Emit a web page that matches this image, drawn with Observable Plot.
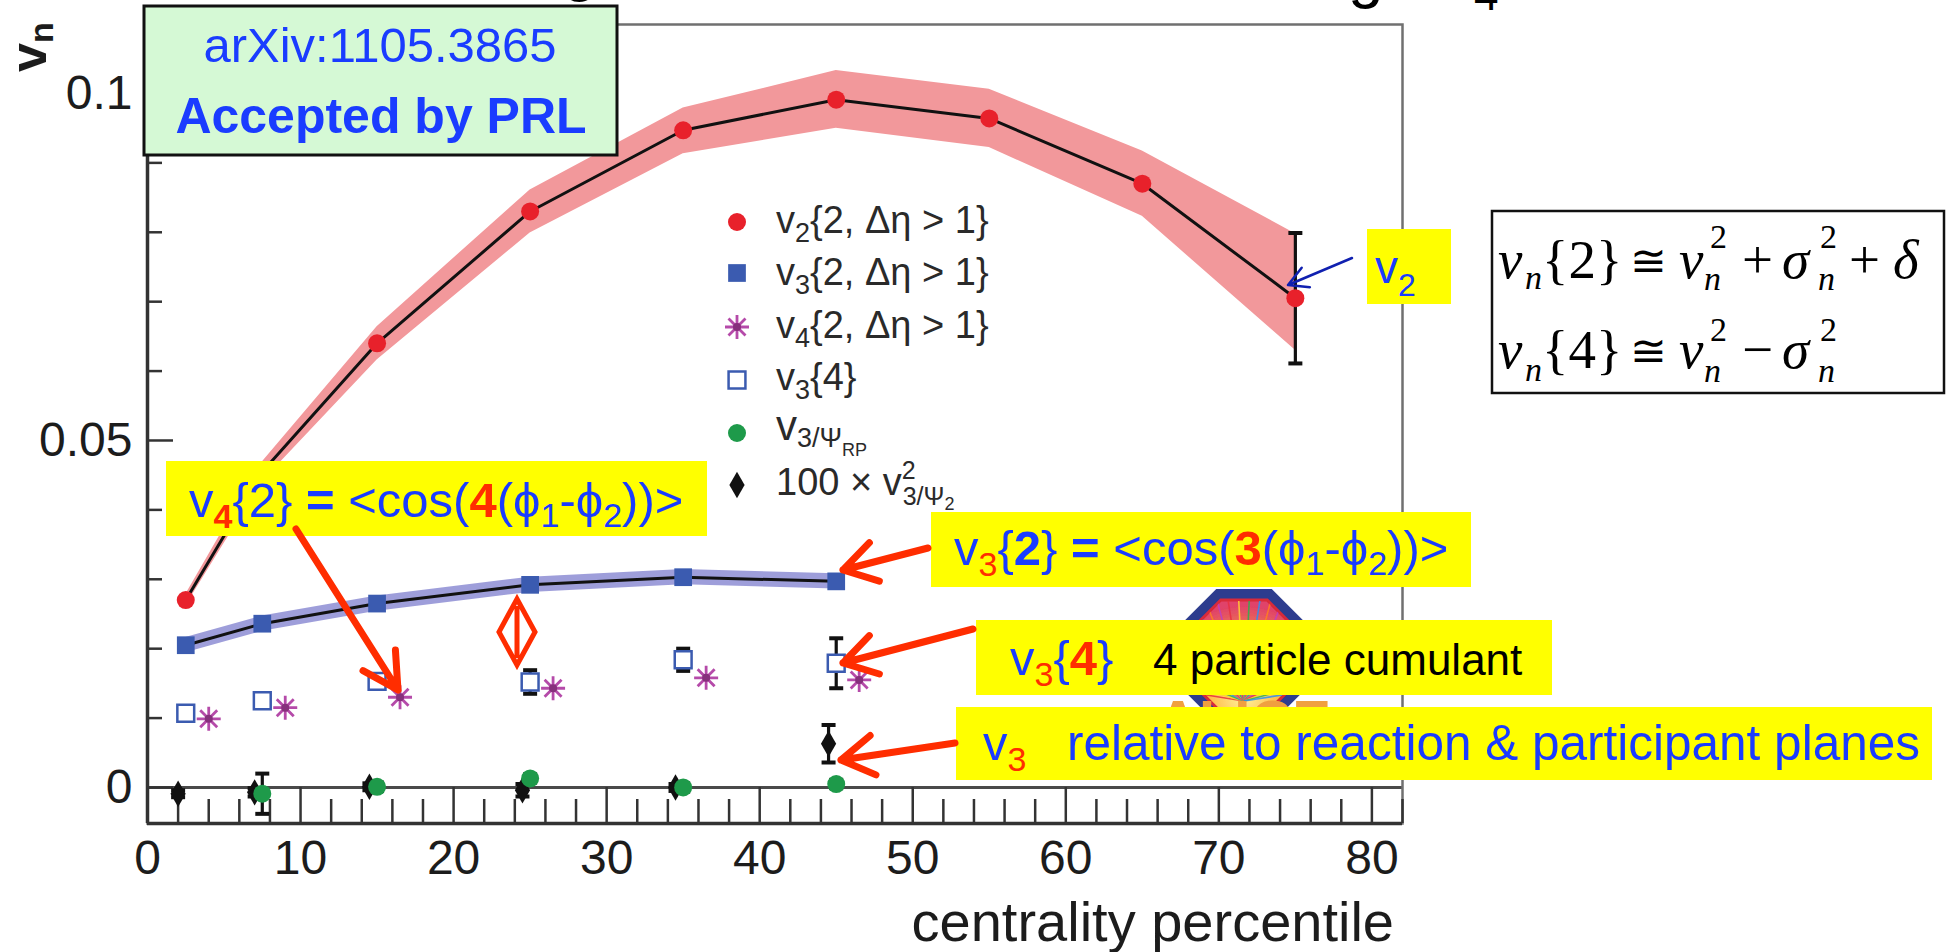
<!DOCTYPE html>
<html>
<head>
<meta charset="utf-8">
<script src="https://cdn.jsdelivr.net/npm/d3@7"></script>
<script src="https://cdn.jsdelivr.net/npm/@observablehq/plot@0.6"></script>
<style>
  html, body { margin: 0; padding: 0; background: #ffffff; overflow: hidden; }
  #chart { width: 1948px; height: 952px; overflow: hidden; }
  #chart svg { display: block; }
</style>
</head>
<body>
<div id="chart"></div>
<script>
// ---------------- data ----------------
// v2{2, |Δη|>1}
const v2X   = [2.5, 7.5, 15, 25, 35, 45, 55, 65, 75];
const v2Y   = [0.0270, 0.0455, 0.0640, 0.0830, 0.0947, 0.0991, 0.0964, 0.0870, 0.0705];
const v2Lo  = [0.0262, 0.0441, 0.0616, 0.0799, 0.0913, 0.0950, 0.0922, 0.0823, 0.0630];
const v2Hi  = [0.0278, 0.0469, 0.0664, 0.0861, 0.0979, 0.1033, 0.1006, 0.0917, 0.0798];
const v2ErrX  = [75];
const v2ErrLo = [0.0611];
const v2ErrHi = [0.0799];
// v3{2, |Δη|>1}
const v3X   = [2.5, 7.5, 15, 25, 35, 45];
const v3Y   = [0.0205, 0.0236, 0.0265, 0.0292, 0.0303, 0.0297];
const v3Lo  = [0.0194, 0.0225, 0.0254, 0.0281, 0.0292, 0.0286];
const v3Hi  = [0.0216, 0.0247, 0.0276, 0.0303, 0.0314, 0.0308];
// v4{2, |Δη|>1}
const v4X   = [4, 9, 16.5, 26.5, 36.5, 46.5];
const v4Y   = [0.0099, 0.0115, 0.0130, 0.0143, 0.0158, 0.0155];
// v3{4}
const v34X   = [2.5, 7.5, 15, 25, 35, 45];
const v34Y   = [0.0107, 0.0125, 0.0153, 0.0152, 0.0184, 0.0179];
const v34Err = [0, 0, 0.0008, 0.0017, 0.0016, 0.0036];
// v3/Ψ_RP
const rpX   = [7.5, 15, 25, 35, 45];
const rpY   = [-0.0009, 0.0001, 0.0013, 0.0000, 0.0005];
const rpErr = [0.0029, 0.0006, 0.0006, 0.0006, 0.0006];
// 100 × v²3/Ψ2
const ppX   = [2, 7, 14.5, 24.5, 34.5, 44.5];
const ppY   = [-0.0009, -0.0007, 0.0001, -0.0004, 0.0000, 0.0063];
const ppErr = [0.0005, 0.0006, 0.0005, 0.0009, 0.0005, 0.0027];
// axes
const xDomain = [0, 82];
const yDomain = [-0.00519, 0.10994];
const xTickLabels = [0, 10, 20, 30, 40, 50, 60, 70, 80];
const xMinorTicks = [2, 4, 6, 8, 12, 14, 16, 18, 22, 24, 26, 28, 32, 34, 36, 38, 42, 44, 46, 48, 52, 54, 56, 58, 62, 64, 66, 68, 72, 74, 76, 78, 82];
const yTickLabels = [0, 0.05, 0.1];
const yTickText   = ["0", "0.05", "0.1"];
const yMinorTicks = [0.01, 0.02, 0.03, 0.04, 0.06, 0.07, 0.08, 0.09];
const xLabel = "centrality percentile";

// ---------------- styling constants ----------------
const SANS = "'Liberation Sans', Arial, Helvetica, sans-serif";
const SERIF = "'Liberation Serif', 'Times New Roman', serif";
const BLUE = "#1a3cff", RED = "#ff2d00", YELLOW = "#ffff00";
const C_RED = "#e8212b", C_PINK = "#f2989b", C_BLUE = "#3b5bb0", C_LAV = "#9494d6",
      C_MAG = "#b54aa9", C_GREEN = "#1e9a4a", C_BLACK = "#111";
const W = 1948, H = 952;
const M = {left: 147, right: 546, top: 24, bottom: 129};
const FW = W - M.left - M.right, FH = H - M.top - M.bottom;

// ---------------- rows ----------------
const v2Rows = v2X.map((x, i) => ({x, y: v2Y[i], lo: v2Lo[i], hi: v2Hi[i]}));
const v3Rows = v3X.map((x, i) => ({x, y: v3Y[i], lo: v3Lo[i], hi: v3Hi[i]}));
const v4Rows = v4X.map((x, i) => ({x, y: v4Y[i]}));
const v34Rows = v34X.map((x, i) => ({x, y: v34Y[i], e: v34Err[i]}));
const rpRows = rpX.map((x, i) => ({x, y: rpY[i], e: rpErr[i]}));
const ppRows = ppX.map((x, i) => ({x, y: ppY[i], e: ppErr[i]}));
const errRows = [
  ...v2ErrX.map((x, i) => ({x, lo: v2ErrLo[i], hi: v2ErrHi[i]})),
  ...v34Rows.filter(d => d.e > 0).map(d => ({x: d.x, lo: d.y - d.e, hi: d.y + d.e})),
  ...rpRows.filter(d => d.e > 0).map(d => ({x: d.x, lo: d.y - d.e, hi: d.y + d.e})),
  ...ppRows.filter(d => d.e > 0).map(d => ({x: d.x, lo: d.y - d.e, hi: d.y + d.e}))
];
const capRows = errRows.flatMap(d => [{x: d.x, y: d.lo}, {x: d.x, y: d.hi}]);

const capSymbol = {draw(ctx) { ctx.moveTo(-7, 0); ctx.lineTo(7, 0); }};
const asteriskSymbol = {draw(ctx) {
  const r = 12;
  for (const a of [0, 45, 90, 135]) {
    const t = a * Math.PI / 180;
    ctx.moveTo(r * Math.cos(t), r * Math.sin(t));
    ctx.lineTo(-r * Math.cos(t), -r * Math.sin(t));
  }
}};

const plot = Plot.plot({
  width: W, height: H,
  marginLeft: M.left, marginRight: M.right, marginTop: M.top, marginBottom: M.bottom,
  x: {domain: xDomain},
  y: {domain: yDomain},
  style: {fontFamily: SANS, color: "#1c1c1c", background: "transparent"},
  marks: [
    Plot.areaY(v2Rows, {x: "x", y1: "lo", y2: "hi", fill: C_PINK}),
    Plot.areaY(v3Rows, {x: "x", y1: "lo", y2: "hi", fill: C_LAV, fillOpacity: 0.9}),
    Plot.ruleY([0], {stroke: "#4a4a4a", strokeWidth: 3}),
    Plot.frame({stroke: "#707070", strokeWidth: 2.5}),
    Plot.ruleX([xDomain[0]], {stroke: "#333", strokeWidth: 3.5}),
    Plot.ruleY([yDomain[0]], {stroke: "#333", strokeWidth: 3.5}),
    Plot.ruleX(xMinorTicks, {x: d => d, insetTop: FH - 24, stroke: "#333", strokeWidth: 2.5}),
    Plot.ruleX(xTickLabels, {x: d => d, insetTop: FH - 36, stroke: "#333", strokeWidth: 2.5}),
    Plot.ruleY(yMinorTicks, {y: d => d, insetRight: FW - 15, stroke: "#333", strokeWidth: 2.5}),
    Plot.ruleY(yTickLabels, {y: d => d, insetRight: FW - 26, stroke: "#333", strokeWidth: 2.5}),
    Plot.axisX({ticks: xTickLabels, tickSize: 0, tickPadding: 16, fontSize: 48, label: null, tickFormat: d => String(d)}),
    Plot.axisY({ticks: yTickLabels, tickSize: 0, tickPadding: 15, fontSize: 48, label: null,
                tickFormat: d => yTickText[yTickLabels.indexOf(d)]}),
    Plot.line(v2Rows, {x: "x", y: "y", stroke: C_BLACK, strokeWidth: 3}),
    Plot.line(v3Rows, {x: "x", y: "y", stroke: C_BLACK, strokeWidth: 3}),
    Plot.ruleX(errRows, {x: "x", y1: "lo", y2: "hi", stroke: C_BLACK, strokeWidth: 3.2}),
    Plot.dot(capRows, {x: "x", y: "y", symbol: capSymbol, fill: "none", stroke: C_BLACK, strokeWidth: 4}),
    Plot.dot(v2Rows, {x: "x", y: "y", r: 9, fill: C_RED}),
    Plot.dot(v3Rows, {x: "x", y: "y", symbol: "square", r: 10, fill: C_BLUE}),
    Plot.dot(v4Rows, {x: "x", y: "y", symbol: asteriskSymbol, fill: "none", stroke: C_MAG, strokeWidth: 2.8}),
    Plot.dot(v4Rows, {x: "x", y: "y", r: 4, fill: "#86307c"}),
    Plot.dot(v34Rows, {x: "x", y: "y", symbol: "square", r: 9.5, fill: "#fff", stroke: C_BLUE, strokeWidth: 2.5}),
    Plot.dot(ppRows, {x: "x", y: "y", symbol: "diamond", r: 8, fill: C_BLACK}),
    Plot.dot(rpRows, {x: "x", y: "y", r: 9, fill: C_GREEN})
  ]
});
document.getElementById("chart").appendChild(plot);

// ---------------- overlays ----------------
const svg = d3.select(plot);
const defs = svg.append("defs");

function rich(g, x, y, parts, base) {
  const t = g.append("text").attr("x", x).attr("y", y)
    .attr("font-family", base.family || SANS)
    .attr("font-size", base.size)
    .attr("fill", base.fill || "#000")
    .attr("text-anchor", base.anchor || "start");
  if (base.weight) t.attr("font-weight", base.weight);
  for (const p of parts) {
    const s = t.append("tspan").text(p.t);
    if (p.fill) s.attr("fill", p.fill);
    if (p.w) s.attr("font-weight", p.w);
    if (p.s) s.attr("font-size", p.s);
    if (p.dy) s.attr("dy", p.dy);
    if (p.dx) s.attr("dx", p.dx);
    if (p.x != null) s.attr("x", p.x);
    if (p.y != null) s.attr("y", p.y);
    if (p.i) s.attr("font-style", "italic");
  }
  return t;
}
function box(g, x0, y0, x1, y1, fill, stroke, sw) {
  const r = g.append("rect").attr("x", x0).attr("y", y0).attr("width", x1 - x0).attr("height", y1 - y0).attr("fill", fill);
  if (stroke) r.attr("stroke", stroke).attr("stroke-width", sw);
  return r;
}
function arrow(g, x1, y1, x2, y2, color, w, head, ang) {
  const a = Math.atan2(y2 - y1, x2 - x1);
  const hx1 = x2 - head * Math.cos(a - ang), hy1 = y2 - head * Math.sin(a - ang);
  const hx2 = x2 - head * Math.cos(a + ang), hy2 = y2 - head * Math.sin(a + ang);
  g.append("path")
    .attr("d", `M${x1},${y1}L${x2},${y2}M${hx1},${hy1}L${x2},${y2}L${hx2},${hy2}`)
    .attr("fill", "none").attr("stroke", color).attr("stroke-width", w)
    .attr("stroke-linecap", "round").attr("stroke-linejoin", "round");
}

// y label v_n
rich(svg, 0, 0, [{t: "v"}, {t: "n", s: 34, dy: 7}], {size: 52, fill: "#1c1c1c", weight: "bold"})
  .attr("transform", "translate(46,72) rotate(-90)");
// x label
svg.append("text").attr("x", 1394).attr("y", 941).attr("text-anchor", "end")
  .attr("font-family", SANS).attr("font-size", 56).attr("fill", "#1c1c1c").text(xLabel);

// cut-off slide title fragments at the top edge
const ttl = svg.append("text").attr("font-family", SANS).attr("font-size", 64).attr("fill", "#000").attr("text-anchor", "start");
ttl.append("tspan").attr("x", 562).attr("y", -11).text("g");
ttl.append("tspan").attr("x", 1348).attr("y", -4).text("g");
ttl.append("tspan").attr("x", 1474).attr("y", 10).attr("font-size", 44).text("4");

// legend
const leg = svg.append("g");
const legX = 737, legTX = 776;
const legRowY = [222, 273, 327, 380, 433, 485];
const sym = (type, r) => d3.symbol().type(type).size(Math.PI * r * r)();
leg.append("circle").attr("cx", legX).attr("cy", legRowY[0]).attr("r", 9).attr("fill", C_RED);
leg.append("path").attr("d", sym(d3.symbolSquare, 10)).attr("transform", `translate(${legX},${legRowY[1]})`).attr("fill", C_BLUE);
leg.append("path").attr("d", "M12,0L-12,0M8.5,8.5L-8.5,-8.5M0,12L0,-12M-8.5,8.5L8.5,-8.5")
  .attr("transform", `translate(${legX},${legRowY[2]})`).attr("stroke", C_MAG).attr("stroke-width", 2.8).attr("fill", "none");
leg.append("circle").attr("cx", legX).attr("cy", legRowY[2]).attr("r", 4).attr("fill", "#86307c");
leg.append("path").attr("d", sym(d3.symbolSquare, 9.5)).attr("transform", `translate(${legX},${legRowY[3]})`)
  .attr("fill", "#fff").attr("stroke", C_BLUE).attr("stroke-width", 2.5);
leg.append("circle").attr("cx", legX).attr("cy", legRowY[4]).attr("r", 9).attr("fill", C_GREEN);
leg.append("path").attr("d", sym(d3.symbolDiamond, 8)).attr("transform", `translate(${legX},${legRowY[5]})`).attr("fill", C_BLACK);
const LG = {size: 38, fill: "#2a2a2a"};
rich(leg, legTX, 233, [{t: "v"}, {t: "2", s: 27, dy: 9}, {t: "{2, Δη > 1}", dy: -9}], LG);
rich(leg, legTX, 285, [{t: "v"}, {t: "3", s: 27, dy: 9}, {t: "{2, Δη > 1}", dy: -9}], LG);
rich(leg, legTX, 338, [{t: "v"}, {t: "4", s: 27, dy: 9}, {t: "{2, Δη > 1}", dy: -9}], LG);
rich(leg, legTX, 390, [{t: "v"}, {t: "3", s: 27, dy: 9}, {t: "{4}", dy: -9}], LG);
rich(leg, legTX, 440, [{t: "v", s: 42}, {t: "3/Ψ", s: 27, dy: 7}, {t: "RP", s: 18, dy: 9}], LG);
rich(leg, legTX, 495, [{t: "100 × v"}, {t: "2", s: 25, dy: -16}, {t: "3/Ψ", s: 25, dy: 26, dx: -13}, {t: "2", s: 18, dy: 5}], LG);

// ALICE logo (partly hidden behind the boxes)
const lg = svg.append("g");
const lcx = 1244, lcy = 656;
const octo = ap => { const R = ap / Math.cos(Math.PI / 8);
  return d3.range(8).map(i => { const a = Math.PI / 8 + i * Math.PI / 4; return [lcx + R * Math.cos(a), lcy + R * Math.sin(a)]; }); };
const grad = defs.append("radialGradient").attr("id", "alicegrad").attr("cx", "50%").attr("cy", "85%").attr("r", "80%");
grad.append("stop").attr("offset", "0%").attr("stop-color", "#fff6a0");
grad.append("stop").attr("offset", "45%").attr("stop-color", "#ffb23a");
grad.append("stop").attr("offset", "100%").attr("stop-color", "#e0456a");
lg.append("polygon").attr("points", octo(67).join(" ")).attr("fill", "#2d3c8e");
lg.append("polygon").attr("points", octo(56).join(" ")).attr("fill", "url(#alicegrad)").attr("stroke", "#d82a3a").attr("stroke-width", 3);
const rayColors = ["#e83040", "#ffd030", "#30b050", "#3090f0", "#ff8020", "#c040c0"];
const clip = defs.append("clipPath").attr("id", "aliceclip");
clip.append("polygon").attr("points", octo(55).join(" "));
const rays = lg.append("g").attr("clip-path", "url(#aliceclip)");
d3.range(28).forEach(i => {
  const a = Math.PI * (1.05 + 0.9 * i / 27);
  rays.append("line").attr("x1", lcx).attr("y1", lcy + 45).attr("x2", lcx + 120 * Math.cos(a)).attr("y2", lcy + 45 + 120 * Math.sin(a))
    .attr("stroke", rayColors[i % rayColors.length]).attr("stroke-width", 1.6).attr("opacity", 0.85);
});
lg.append("text").attr("x", lcx).attr("y", 741).attr("text-anchor", "middle").attr("font-family", SANS)
  .attr("font-weight", "bold").attr("font-size", 58).attr("fill", "#f0a040").text("ALICE");

// annotations
const an = svg.append("g");
// green box
box(an, 144, 6, 617, 155, "#d5f9d5", "#111", 3);
rich(an, 380, 62, [{t: "arXiv:1105.3865"}], {size: 49, fill: BLUE, anchor: "middle"});
rich(an, 381, 133, [{t: "Accepted by PRL"}], {size: 50, fill: BLUE, anchor: "middle", weight: "bold"});

// v4{2} box
box(an, 166, 461, 707, 536, YELLOW);
rich(an, 189, 517, [
  {t: "v"}, {t: "4", fill: RED, w: "bold", s: 34, dy: 11}, {t: "{2}", dy: -11},
  {t: " = ", w: "bold"}, {t: "<cos("}, {t: "4", fill: RED, w: "bold"}, {t: "(ϕ"},
  {t: "1", s: 34, dy: 10}, {t: "-ϕ", dy: -10}, {t: "2", s: 34, dy: 10}, {t: "))>", dy: -10}
], {size: 49, fill: BLUE});

// v3{2} box
box(an, 931, 512, 1471, 587, YELLOW);
rich(an, 954, 565, [
  {t: "v"}, {t: "3", fill: RED, s: 34, dy: 11}, {t: "{", dy: -11}, {t: "2", w: "bold"}, {t: "}"},
  {t: " = ", w: "bold"}, {t: "<cos("}, {t: "3", fill: RED, w: "bold"}, {t: "(ϕ"},
  {t: "1", s: 34, dy: 10}, {t: "-ϕ", dy: -10}, {t: "2", s: 34, dy: 10}, {t: "))>", dy: -10}
], {size: 49, fill: BLUE});

// v3{4} box
box(an, 976, 620, 1552, 695, YELLOW);
rich(an, 1010, 675, [
  {t: "v"}, {t: "3", fill: RED, s: 34, dy: 11}, {t: "{", dy: -11}, {t: "4", fill: RED, w: "bold"}, {t: "}"}
], {size: 49, fill: BLUE});
rich(an, 1153, 675, [{t: "4 particle cumulant"}], {size: 44, fill: "#000"});

// v3 relative box
box(an, 956, 707, 1932, 780, YELLOW);
rich(an, 983, 760, [{t: "v"}, {t: "3", fill: RED, s: 34, dy: 11}], {size: 49, fill: BLUE});
rich(an, 1067, 760, [{t: "relative to reaction & participant planes"}], {size: 49.5, fill: BLUE});

// v2 label
box(an, 1367, 229, 1451, 304, YELLOW);
rich(an, 1375, 283, [{t: "v"}, {t: "2", s: 32, dy: 13}], {size: 46, fill: BLUE});

// formula box
box(an, 1492, 211, 1944, 393, "#fff", "#111", 2.5);
const F = {size: 55, fill: "#000", family: SERIF};
rich(an, 1498, 278, [
  {t: "v", i: true}, {t: "n", i: true, s: 34, x: 1525, y: 289}, {t: "{2}", x: 1542, y: 278},
  {t: "≅", x: 1630, y: 276, s: 44}, {t: "v", i: true, x: 1679, y: 278},
  {t: "2", s: 34, x: 1710, y: 248}, {t: "n", i: true, s: 34, x: 1704, y: 290},
  {t: "+", x: 1742, y: 278}, {t: "σ", i: true, x: 1782, y: 278},
  {t: "2", s: 34, x: 1820, y: 248}, {t: "n", i: true, s: 34, x: 1818, y: 290},
  {t: "+", x: 1849, y: 278}, {t: "δ", i: true, x: 1893, y: 278}
], F);
rich(an, 1498, 368, [
  {t: "v", i: true}, {t: "n", i: true, s: 34, x: 1525, y: 381}, {t: "{4}", x: 1542, y: 368},
  {t: "≅", x: 1630, y: 366, s: 44}, {t: "v", i: true, x: 1679, y: 368},
  {t: "2", s: 34, x: 1710, y: 341}, {t: "n", i: true, s: 34, x: 1704, y: 382},
  {t: "−", x: 1742, y: 368}, {t: "σ", i: true, x: 1782, y: 368},
  {t: "2", s: 34, x: 1820, y: 341}, {t: "n", i: true, s: 34, x: 1818, y: 382}
], F);

// red diamond mark
an.append("path").attr("d", "M517,599L535,632L517,665L499,632Z M517,606L517,658")
  .attr("fill", "none").attr("stroke", RED).attr("stroke-width", 5).attr("stroke-linejoin", "miter");

// arrows
arrow(an, 296, 529, 398, 690, RED, 7, 40, 0.5);
arrow(an, 928, 548, 843, 570, RED, 7, 38, 0.55);
arrow(an, 973, 629, 843, 663, RED, 7, 38, 0.55);
arrow(an, 955, 743, 841, 760, RED, 7, 38, 0.55);
arrow(an, 1352, 258, 1288, 285, "#1020b0", 2.5, 22, 0.5);
</script>
</body>
</html>
